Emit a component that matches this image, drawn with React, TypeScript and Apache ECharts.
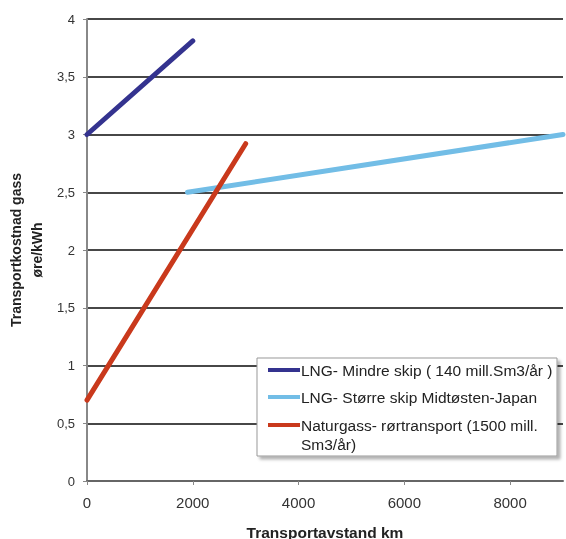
import React, { useEffect, useRef } from "react";
import * as echarts from "echarts";

const seriesNames = [
  "LNG- Mindre skip ( 140 mill.Sm3/år )",
  "LNG- Større skip Midtøsten-Japan",
  "Naturgass- rørtransport (1500 mill.\nSm3/år)",
];
const lngSmall: [number, number][] = [[0, 3.0], [2000, 3.81]];
const lngLarge: [number, number][] = [[1900, 2.5], [9000, 3.0]];
const pipeline: [number, number][] = [[0, 0.7], [3000, 2.92]];
const colors = ["#34338f", "#72bde6", "#c9391c"];

export default function App() {
  const ref = useRef<HTMLDivElement>(null);
  useEffect(() => {
    const chart = echarts.init(ref.current!, null, { renderer: "svg" });
    const font = "Liberation Sans";
    const legendRows = [370, 397, 425];
    const legendGraphics: any[] = [
      {
        type: "rect",
        shape: { x: 257, y: 358, width: 300, height: 98 },
        style: { fill: "#fff", stroke: "#999", lineWidth: 1, shadowColor: "rgba(0,0,0,0.3)", shadowOffsetX: 3, shadowOffsetY: 3, shadowBlur: 3 },
        z: 10,
      },
    ];
    seriesNames.forEach((name, i) => {
      legendGraphics.push({
        type: "line",
        shape: { x1: 268, y1: legendRows[i], x2: 300, y2: legendRows[i] },
        style: { stroke: colors[i], lineWidth: 4 },
        z: 11,
      });
      legendGraphics.push({
        type: "text",
        x: 301,
        y: legendRows[i] - 9.5,
        style: {
          text: name,
          fill: "#222",
          font: `15.5px "${font}"`,
          lineHeight: 19,
          verticalAlign: "top",
          align: "left",
        },
        z: 11,
      });
    });
    chart.setOption({
      animation: false,
      textStyle: { fontFamily: font },
      grid: { left: 87, top: 19, right: 3, bottom: 58, containLabel: false, outerBoundsMode: "none" },
      graphic: legendGraphics,
      xAxis: {
        type: "value",
        min: 0,
        max: 9000,
        interval: 2000,
        name: "Transportavstand km",
        nameLocation: "middle",
        nameGap: 43,
        nameMoveOverlap: false,
        nameTextStyle: { fontWeight: "bold", fontSize: 15.5, color: "#222" },
        axisLine: { show: true, lineStyle: { color: "#666", width: 2 } },
        axisTick: { show: true, length: 4, lineStyle: { color: "#888" } },
        axisLabel: {
          showMaxLabel: false,
          fontSize: 15,
          color: "#333",
          margin: 14,
          formatter: (v: number) => String(v),
        },
        splitLine: { show: false },
      },
      yAxis: {
        type: "value",
        min: 0,
        max: 4,
        interval: 0.5,
        name: "Transportkostnad gass\nøre/kWh",
        nameLocation: "middle",
        nameRotate: 90,
        nameGap: 40,
        nameMoveOverlap: false,
        nameTextStyle: { fontWeight: "bold", fontSize: 14, color: "#222", lineHeight: 21 },
        axisLine: { show: true, lineStyle: { color: "#888", width: 2 } },
        axisTick: { show: true, length: 4, lineStyle: { color: "#888" } },
        axisLabel: {
          fontSize: 13,
          color: "#333",
          margin: 12,
          formatter: (v: number) => String(v).replace(".", ","),
        },
        splitLine: { show: true, lineStyle: { color: "#474747", width: 2 } },
      },
      series: [
        { name: seriesNames[0], data: lngSmall },
        { name: seriesNames[1], data: lngLarge },
        { name: seriesNames[2], data: pipeline },
      ].map((s, i) => ({
        ...s,
        type: "line",
        showSymbol: false,
        symbol: "none",
        color: colors[i],
        lineStyle: { width: 5, color: colors[i], cap: "round" },
        z: 3,
      })),
    });
    return () => chart.dispose();
  }, []);
  return <div ref={ref} style={{ position: "fixed", left: 0, top: 0, width: 566, height: 539 }} />;
}
